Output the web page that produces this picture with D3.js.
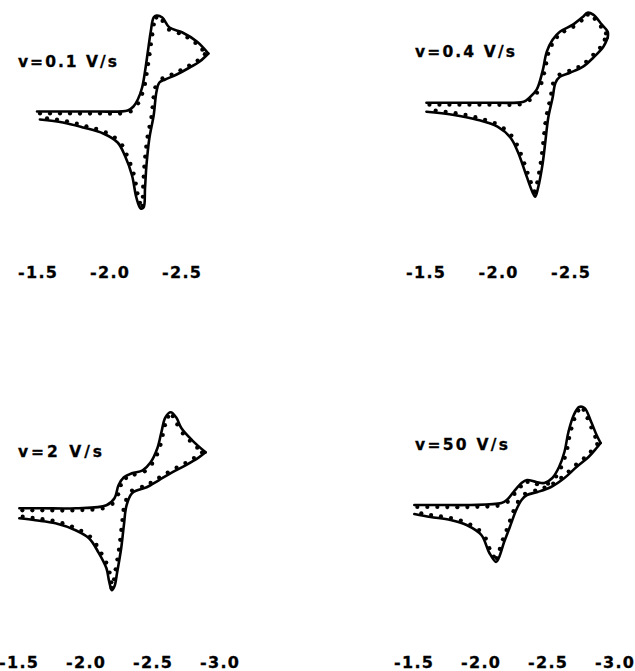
<!DOCTYPE html>
<html>
<head>
<meta charset="utf-8">
<script src="https://cdn.jsdelivr.net/npm/d3@7"></script>
<style>
  html, body { margin: 0; padding: 0; background: #fff; }
  svg { display: block; }
  text { font-family: "DejaVu Sans", "Liberation Sans", Arial, sans-serif; font-weight: bold; fill: #000; }
</style>
</head>
<body>
<svg id="chart" width="635" height="671"></svg>
<script>
// ---- Data: [potential E (V), current (arbitrary units)] ----
// forward (cathodic) scan and reverse scan for each scan rate
const fwd01 = [[-1.50,0.0],[-1.68,0.0],[-1.92,0.0],[-2.13,0.1],[-2.17,0.5],[-2.20,1.2],[-2.23,2.4],[-2.25,4.0],[-2.27,6.0],[-2.29,8.0],[-2.31,9.4],[-2.33,9.6],[-2.37,9.4],[-2.42,8.4],[-2.51,7.9],[-2.61,7.0],[-2.69,5.8]];
const rev01 = [[-2.69,5.8],[-2.63,5.0],[-2.56,4.4],[-2.47,3.7],[-2.39,3.2],[-2.35,2.9],[-2.33,2.0],[-2.31,-0.4],[-2.28,-2.7],[-2.26,-5.4],[-2.25,-7.7],[-2.24,-9.6],[-2.22,-9.7],[-2.19,-8.6],[-2.16,-6.4],[-2.11,-4.4],[-2.06,-3.1],[-1.96,-2.2],[-1.82,-1.6],[-1.68,-1.1],[-1.52,-0.8]];

const fwd04 = [[-1.51,0.0],[-1.69,0.0],[-1.93,0.0],[-2.18,0.1],[-2.22,0.5],[-2.27,1.3],[-2.31,3.1],[-2.34,5.1],[-2.38,6.3],[-2.43,7.1],[-2.52,7.8],[-2.59,8.6],[-2.62,9.0],[-2.66,8.8],[-2.72,7.8],[-2.76,7.1],[-2.76,6.5]];
const rev04 = [[-2.76,6.5],[-2.73,5.6],[-2.66,4.5],[-2.59,3.6],[-2.50,3.0],[-2.43,2.6],[-2.40,2.0],[-2.38,0.5],[-2.35,-1.5],[-2.33,-3.9],[-2.31,-6.2],[-2.28,-8.5],[-2.26,-9.4],[-2.24,-8.9],[-2.19,-6.9],[-2.14,-4.9],[-2.09,-3.5],[-2.00,-2.4],[-1.86,-1.7],[-1.69,-1.2],[-1.51,-0.9]];

const fwd2 = [[-1.51,0.0],[-1.68,0.0],[-1.93,0.0],[-2.16,0.3],[-2.22,1.0],[-2.25,2.3],[-2.29,3.1],[-2.35,3.5],[-2.43,3.8],[-2.49,4.6],[-2.54,6.0],[-2.57,7.6],[-2.60,9.1],[-2.64,9.6],[-2.68,9.1],[-2.72,8.0],[-2.80,6.8],[-2.90,5.6]];
const rev2 = [[-2.90,5.6],[-2.85,5.1],[-2.75,4.3],[-2.65,3.6],[-2.55,2.8],[-2.46,2.1],[-2.39,1.8],[-2.35,1.5],[-2.31,0.3],[-2.29,-1.7],[-2.27,-4.0],[-2.24,-6.4],[-2.22,-7.8],[-2.20,-8.2],[-2.18,-7.3],[-2.16,-6.0],[-2.10,-4.4],[-2.03,-3.0],[-1.93,-2.2],[-1.78,-1.5],[-1.63,-1.2],[-1.51,-1.0]];

const fwd50 = [[-1.51,0.0],[-1.68,0.0],[-1.93,0.0],[-2.16,0.2],[-2.20,0.5],[-2.25,1.3],[-2.31,2.2],[-2.35,2.5],[-2.42,2.3],[-2.48,2.2],[-2.54,2.7],[-2.59,3.8],[-2.63,5.3],[-2.66,7.3],[-2.70,9.0],[-2.74,9.8],[-2.78,9.7],[-2.83,8.3],[-2.87,7.0],[-2.90,6.2]];
const rev50 = [[-2.90,6.2],[-2.87,5.7],[-2.81,4.8],[-2.72,3.8],[-2.63,2.7],[-2.53,1.8],[-2.43,1.3],[-2.35,1.0],[-2.31,0.5],[-2.27,-0.5],[-2.22,-2.3],[-2.18,-3.7],[-2.14,-5.3],[-2.12,-5.7],[-2.07,-4.8],[-2.01,-3.0],[-1.90,-2.0],[-1.78,-1.5],[-1.63,-1.2],[-1.51,-0.9]];

const rateLabels = ["v=0.1 V/s", "v=0.4 V/s", "v=2 V/s", "v=50 V/s"];
const ticksTop = [-1.5, -2.0, -2.5];
const ticksBottom = [-1.5, -2.0, -2.5, -3.0];

// ---- Layout (positions / sizes only) ----
const panels = [
  { fwd: fwd01, rev: rev01, label: rateLabels[0], ticks: ticksTop,    x0: 37,  pxPerV: 144, base: 111.5, tickY: 278, lx: 18,  ly: 67,  lw: 99 },
  { fwd: fwd04, rev: rev04, label: rateLabels[1], ticks: ticksTop,    x0: 425, pxPerV: 145, base: 102.7, tickY: 278, lx: 415, ly: 57,  lw: 100 },
  { fwd: fwd2,  rev: rev2,  label: rateLabels[2], ticks: ticksBottom, x0: 18,  pxPerV: 134, base: 508.3, tickY: 668, lx: 18,  ly: 457, lw: 84 },
  { fwd: fwd50, rev: rev50, label: rateLabels[3], ticks: ticksBottom, x0: 413, pxPerV: 134, base: 505,   tickY: 668, lx: 415, ly: 450, lw: 93 }
];

const svg = d3.select("#chart");
const pxPerUnit = 10;

panels.forEach(p => {
  const x = d3.scaleLinear().domain([-1.5, -3.0]).range([p.x0, p.x0 + 1.5 * p.pxPerV]);
  const y = d3.scaleLinear().domain([-12, 12]).range([p.base + 12 * pxPerUnit, p.base - 12 * pxPerUnit]);
  const g = svg.append("g");

  const line = d3.line().x(d => x(d[0])).y(d => y(d[1])).curve(d3.curveCatmullRom.alpha(0.5));

  [p.fwd, p.rev].forEach(arr => {
    const path = g.append("path")
      .attr("d", line(arr))
      .attr("fill", "none")
      .attr("stroke", "#000")
      .attr("stroke-width", 2.6)
      .attr("stroke-linejoin", "round")
      .attr("stroke-linecap", "round");

    // simulation markers placed along the drawn curve
    const node = path.node();
    const L = node.getTotalLength();
    const step = 10;
    const marks = [];
    for (let s = 3; s < L - 2; s += step) {
      const a = node.getPointAtLength(s);
      const b = node.getPointAtLength(Math.min(L, s + 0.5));
      let dx = b.x - a.x, dy = b.y - a.y;
      const n = Math.hypot(dx, dy) || 1;
      dx /= n; dy /= n;
      marks.push({ x: a.x - dy * 2.0, y: a.y + dx * 2.0 });
    }
    g.selectAll(null).data(marks).enter().append("circle")
      .attr("cx", d => d.x).attr("cy", d => d.y).attr("r", 2.1).attr("fill", "#000");
  });

  // scan rate label
  g.append("text")
    .attr("x", p.lx).attr("y", p.ly)
    .attr("font-size", 15.5)
    .attr("stroke", "#000").attr("stroke-width", 0.3)
    .attr("textLength", p.lw)
    .attr("lengthAdjust", "spacing")
    .text(p.label);

  // potential axis labels (no axis line)
  const ax = g.append("g")
    .attr("transform", `translate(0,${p.tickY})`)
    .call(d3.axisBottom(x).tickValues(p.ticks).tickSize(0).tickPadding(0).tickFormat(d => d.toFixed(1)));
  ax.select(".domain").remove();
  ax.selectAll("text")
    .attr("dy", null).attr("y", 0)
    .attr("font-size", 16)
    .attr("font-family", "DejaVu Sans, Liberation Sans, Arial, sans-serif")
    .attr("font-weight", "bold")
    .attr("fill", "#000")
    .attr("stroke", "#000").attr("stroke-width", 0.3)
    .attr("textLength", 39)
    .attr("lengthAdjust", "spacing");
});
</script>
</body>
</html>
